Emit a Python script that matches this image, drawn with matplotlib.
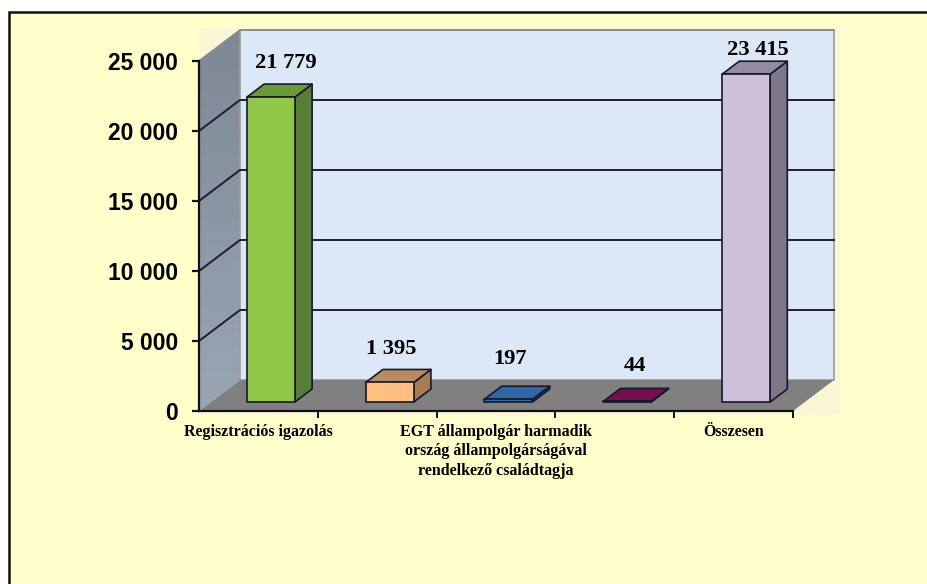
import numpy as np
import matplotlib
matplotlib.use("Agg")
import matplotlib.pyplot as plt
from matplotlib.patches import Polygon, Rectangle

categories = ["Regisztrációs igazolás", "", "EGT állampolgár harmadik\nország állampolgárságával\nrendelkező családtagja", "", "Összesen"]
values = [21779, 1395, 197, 44, 23415]
value_labels = ["21 779", "1 395", "197", "44", "23 415"]
y_ticks = [0, 5000, 10000, 15000, 20000, 25000]
y_tick_labels = ["0", "5 000", "10 000", "15 000", "20 000", "25 000"]
front_colors = ["#92C84A", "#FFBF80", "#2E68A8", "#720F4C", "#CCC0DA"]
top_colors = ["#6A9A38", "#B88A60", "#2E68A8", "#720F4C", "#948BA0"]
side_colors = ["#558035", "#A67C55", "#24507F", "#5A0C3C", "#7D7789"]

W, H = 928, 584
L, R, B, T = 199, 793, 411, 61
fig = plt.figure(figsize=(W / 100, H / 100), dpi=100, facecolor="white")

# page background and frame
bg = fig.add_axes([0, 0, 1, 1])
bg.set_xlim(0, W); bg.set_ylim(H, 0); bg.axis("off")
bg.add_patch(Rectangle((9, 12), W, H, fc="#FFFFCC", ec="#111111", lw=1.8))
bg.add_patch(Rectangle((199, 28), 641, 387, fc="#FCF6D6", ec="none"))

ax = fig.add_axes([L / W, 1 - B / H, (R - L) / W, (B - T) / H])
ax.set_xlim(0, 5)
ax.set_ylim(0, 25000)
ax.patch.set_alpha(0)

PX = 5 / (R - L)          # data units per pixel, x
PY = 25000 / (B - T)      # data units per pixel, y
DX, DY = 41 * PX, 31 * PY  # full depth of the box


def ob(x, y, d):
    return (x + d * DX, y + d * DY)


def poly(pts, **kw):
    kw.setdefault("clip_on", False)
    p = Polygon(pts, closed=True, **kw)
    ax.add_patch(p)
    return p


# left wall with vertical gradient
wall = poly([ob(0, 0, 0), ob(0, 0, 1), ob(0, 25000, 1), ob(0, 25000, 0)], fc="none", ec="none")
grad = np.linspace(0, 1, 256).reshape(-1, 1)
cmap = matplotlib.colors.LinearSegmentedColormap.from_list("w", ["#7D8894", "#9AA6B4"])
im = ax.imshow(grad, extent=(0, DX, 0, 25000 + DY), aspect="auto", cmap=cmap, origin="upper", zorder=1)
im.set_clip_box(fig.bbox)
im.set_clip_path(wall)
ax.set_xlim(0, 5)
ax.set_ylim(0, 25000)

# back wall and floor
poly([ob(0, 0, 1), ob(5, 0, 1), ob(5, 25000, 1), ob(0, 25000, 1)], fc="#DCE8F7", ec="#9A9A9A", lw=1.2, zorder=1)
poly([ob(0, 0, 0), ob(5, 0, 0), ob(5, 0, 1), ob(0, 0, 1)], fc="#808080", ec="none", zorder=2)

# gridlines on back and left wall
for t in y_ticks[1:-1]:
    x0, y0 = ob(0, t, 0)
    x1, y1 = ob(0, t, 1)
    x2, y2 = ob(5, t, 1)
    ax.plot([x0, x1, x2], [y0, y1, y2], color="#1B1F33", lw=1.4, clip_on=False, zorder=2.5)
x0, y0 = ob(0, 25000, 0); x1, y1 = ob(0, 25000, 1); x2, y2 = ob(5, 25000, 1)
ax.plot([x0, x1, x2], [y0, y1, y2], color="#8A8A8A", lw=1.2, clip_on=False, zorder=2.5)

# bars
d1, d2 = 0.29, 0.71
hw = 24 * PX
for i, v in enumerate(values):
    xc = i + 0.5 + 0.6 * PX
    xl, xr = xc - hw, xc + hw
    ek = dict(ec="#17172A", lw=1.2, joinstyle="round", zorder=4)
    poly([ob(xr, 0, d1), ob(xr, 0, d2), ob(xr, v, d2), ob(xr, v, d1)], fc=side_colors[i], **ek)
    poly([ob(xl, v, d1), ob(xr, v, d1), ob(xr, v, d2), ob(xl, v, d2)], fc=top_colors[i], **ek)
    poly([ob(xl, 0, d1), ob(xr, 0, d1), ob(xr, v, d1), ob(xl, v, d1)], fc=front_colors[i], **ek)

# value labels
label_dy = [21, 20.5, 27, 22, 11]
label_dx = [-2, -15, -15, -9, -5]
for i, (v, s) in enumerate(zip(values, value_labels)):
    x, y = ob(i + 0.5, v, d2)
    ax.text(x + label_dx[i] * PX, y + label_dy[i] * PY, s, ha="center", va="center",
            family="Liberation Serif", weight="bold", fontsize=16.2, color="black", zorder=6)

# axes
for s in ("top", "right"):
    ax.spines[s].set_visible(False)
for s in ("left", "bottom"):
    ax.spines[s].set_linewidth(1.6)
    ax.spines[s].set_color("#111111")
    ax.spines[s].set_zorder(5)
ax.set_yticks(y_ticks)
ax.set_yticklabels(y_tick_labels, family="Liberation Sans", weight="bold", fontsize=16.5)
ax.tick_params(axis="y", length=5, width=1.6, pad=10, color="#111111")
ax.set_xticks(range(1, 6))
ax.set_xticklabels([])
ax.tick_params(axis="x", length=5, width=1.4, color="#111111")
for i, c in enumerate(categories):
    if c:
        ax.annotate(c, xy=(i + 0.5, 0), xytext=(0, -13), textcoords="offset pixels",
                    ha="center", va="top", family="Liberation Serif", weight="bold",
                    fontsize=11.5, linespacing=1.28, annotation_clip=False)

fig.savefig("out.png", dpi=100)
